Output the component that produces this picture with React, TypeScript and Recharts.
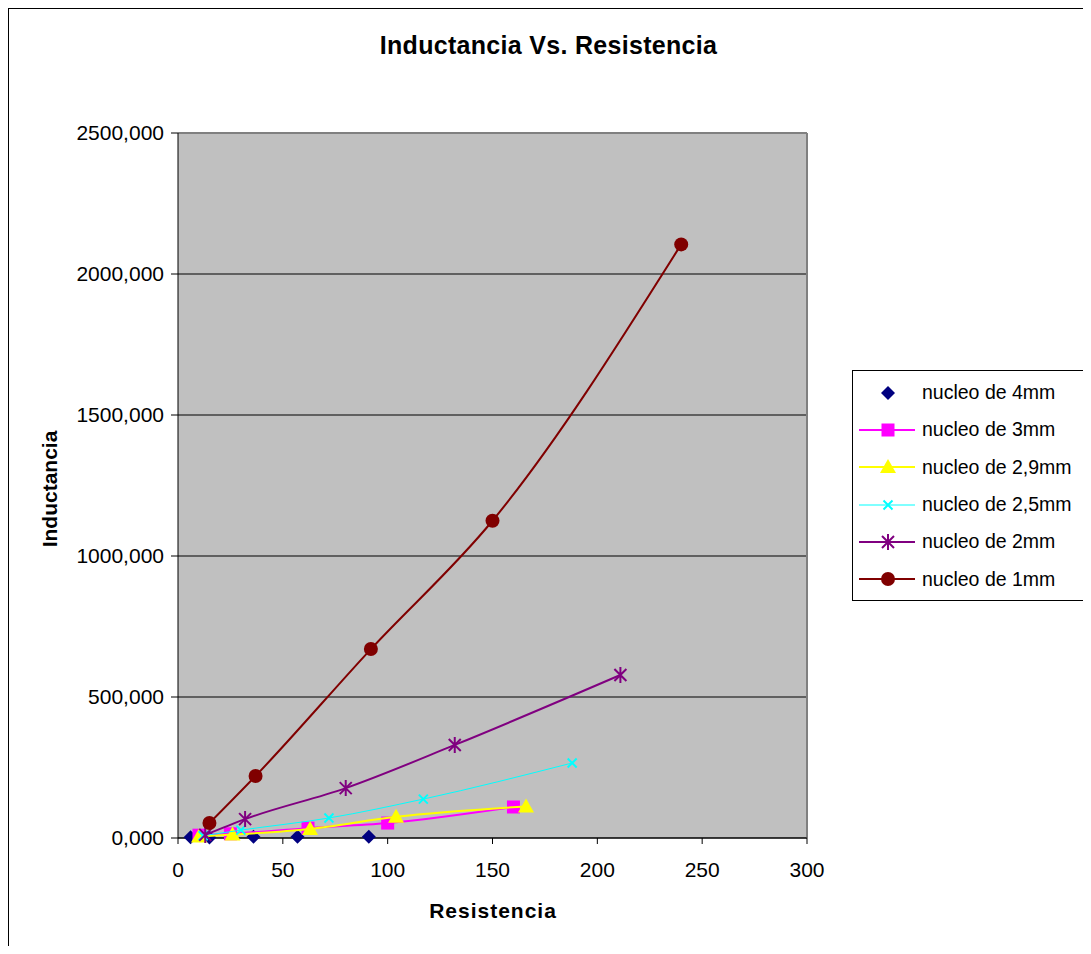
import React from "react";
import {
  ScatterChart,
  Scatter,
  XAxis,
  YAxis,
  CartesianGrid,
  ReferenceLine,
  Legend,
} from "recharts";

const FONT = '"Liberation Sans", Arial, sans-serif';

// Resistencia (x) vs Inductancia (y)
const nucleo4mm = [
  { x: 6, y: 3 },
  { x: 15, y: 2 },
  { x: 36, y: 4 },
  { x: 57, y: 4 },
  { x: 91, y: 4 },
];
const nucleo3mm = [
  { x: 10, y: 10 },
  { x: 25, y: 15 },
  { x: 62, y: 35 },
  { x: 100, y: 53 },
  { x: 160, y: 110 },
];
const nucleo29mm = [
  { x: 10, y: 5 },
  { x: 26, y: 12 },
  { x: 63, y: 32 },
  { x: 104, y: 75 },
  { x: 166, y: 112 },
];
const nucleo25mm = [
  { x: 12, y: 8 },
  { x: 30, y: 28 },
  { x: 72, y: 71 },
  { x: 117, y: 138 },
  { x: 188, y: 266 },
];
const nucleo2mm = [
  { x: 13, y: 11 },
  { x: 32, y: 67 },
  { x: 80, y: 177 },
  { x: 132, y: 330 },
  { x: 211, y: 578 },
];
const nucleo1mm = [
  { x: 15, y: 53 },
  { x: 37, y: 220 },
  { x: 92, y: 670 },
  { x: 150, y: 1125 },
  { x: 240, y: 2105 },
];

const xTicks = [0, 50, 100, 150, 200, 250, 300];
const yTicks = [0, 500, 1000, 1500, 2000, 2500];

type Kind = "diamond" | "square" | "triangle" | "x" | "star" | "circle";

const SERIES: { name: string; data: { x: number; y: number }[]; color: string; kind: Kind; line: boolean; width: number }[] = [
  { name: "nucleo de 4mm", data: nucleo4mm, color: "#000080", kind: "diamond", line: false, width: 0 },
  { name: "nucleo de 3mm", data: nucleo3mm, color: "#FF00FF", kind: "square", line: true, width: 2 },
  { name: "nucleo de 2,9mm", data: nucleo29mm, color: "#FFFF00", kind: "triangle", line: true, width: 2 },
  { name: "nucleo de 2,5mm", data: nucleo25mm, color: "#00FFFF", kind: "x", line: true, width: 1 },
  { name: "nucleo de 2mm", data: nucleo2mm, color: "#800080", kind: "star", line: true, width: 2 },
  { name: "nucleo de 1mm", data: nucleo1mm, color: "#800000", kind: "circle", line: true, width: 2 },
];

function Marker({ kind, cx, cy, color }: { kind: Kind; cx: number; cy: number; color: string }) {
  if (cx == null || cy == null) return null;
  switch (kind) {
    case "diamond":
      return <path d={`M${cx},${cy - 7}L${cx + 7},${cy}L${cx},${cy + 7}L${cx - 7},${cy}Z`} fill={color} />;
    case "square":
      return <rect x={cx - 6.5} y={cy - 6.5} width={13} height={13} fill={color} />;
    case "triangle":
      return <path d={`M${cx},${cy - 8}L${cx + 8},${cy + 6}L${cx - 8},${cy + 6}Z`} fill={color} />;
    case "x":
      return (
        <path
          d={`M${cx - 4.5},${cy - 4.5}L${cx + 4.5},${cy + 4.5}M${cx + 4.5},${cy - 4.5}L${cx - 4.5},${cy + 4.5}`}
          stroke={color}
          strokeWidth={2}
        />
      );
    case "star":
      return (
        <path
          d={`M${cx - 6},${cy - 6}L${cx + 6},${cy + 6}M${cx + 6},${cy - 6}L${cx - 6},${cy + 6}M${cx},${cy - 8}L${cx},${cy + 8}`}
          stroke={color}
          strokeWidth={2}
        />
      );
    default:
      return <circle cx={cx} cy={cy} r={7} fill={color} />;
  }
}

function LegendBox() {
  return (
    <div
      style={{
        border: "1px solid #000",
        background: "#fff",
        width: 236,
        height: 231,
        boxSizing: "border-box",
        paddingTop: 3,
        fontFamily: FONT,
        fontSize: 19.5,
        color: "#000",
      }}
    >
      {SERIES.map((s) => (
        <div key={s.name} style={{ display: "flex", alignItems: "center", height: 37.3 }}>
          <svg width={66} height={22} style={{ flex: "none" }}>
            {s.line && <line x1={6} x2={62} y1={11} y2={11} stroke={s.color} strokeWidth={s.width} />}
            <Marker kind={s.kind} cx={35} cy={11} color={s.color} />
          </svg>
          <span style={{ marginLeft: 3, whiteSpace: "nowrap" }}>{s.name}</span>
        </div>
      ))}
    </div>
  );
}

const fmtY = (v: number) => v.toFixed(3).replace(".", ",");

export default function App() {
  return (
    <div
      style={{
        position: "relative",
        width: 1079,
        height: 937,
        borderTop: "1px solid #000",
        borderLeft: "1px solid #000",
        borderRight: "1px solid #000",
        fontFamily: FONT,
        background: "#fff",
      }}
    >
      <div
        style={{
          position: "absolute",
          left: 0,
          width: 1079,
          top: 22,
          textAlign: "center",
          fontWeight: "bold",
          fontSize: 25,
          letterSpacing: 0.3,
        }}
      >
        Inductancia Vs. Resistencia
      </div>
      <div
        style={{
          position: "absolute",
          left: 41 - 60,
          top: 481 - 13,
          width: 120,
          textAlign: "center",
          fontWeight: "bold",
          fontSize: 21,
          transform: "rotate(-90deg)",
        }}
      >
        Inductancia
      </div>
      <div
        style={{
          position: "absolute",
          left: 484 - 100,
          top: 890,
          width: 200,
          textAlign: "center",
          fontWeight: "bold",
          fontSize: 21,
          letterSpacing: 1,
        }}
      >
        Resistencia
      </div>
      <ScatterChart width={1079} height={937} margin={{ top: 124, right: 281, bottom: 68, left: 89 }}>
        <CartesianGrid horizontal vertical={false} stroke="#000" fill="#C0C0C0" fillOpacity={1} />
        <XAxis
          type="number"
          dataKey="x"
          domain={[0, 300]}
          ticks={xTicks}
          height={40}
          tickSize={6}
          tickMargin={18}
          stroke="#000"
          tick={{ fill: "#000", fontSize: 21, fontFamily: FONT }}
        />
        <YAxis
          type="number"
          dataKey="y"
          domain={[0, 2500]}
          ticks={yTicks}
          width={80}
          tickSize={7}
          tickMargin={7}
          stroke="#000"
          tickFormatter={fmtY}
          tick={{ fill: "#000", fontSize: 21, fontFamily: FONT }}
        />
        <ReferenceLine y={2500} stroke="#808080" strokeWidth={2} />
        <ReferenceLine x={300} stroke="#808080" strokeWidth={2} />
        {SERIES.map((s) => (
          <Scatter
            key={s.name}
            name={s.name}
            data={s.data}
            fill={s.color}
            line={s.line ? { stroke: s.color, strokeWidth: s.width } : false}
            lineType="joint"
            lineJointType="monotoneX"
            shape={(p: any) => <Marker kind={s.kind} cx={p.cx} cy={p.cy} color={s.color} />}
            isAnimationActive={false}
          />
        ))}
        <Legend
          layout="vertical"
          align="center"
          verticalAlign="middle"
          content={() => <LegendBox />}
          wrapperStyle={{ position: "absolute", left: 843, top: 361, width: 236, height: 231 }}
        />
      </ScatterChart>
    </div>
  );
}
